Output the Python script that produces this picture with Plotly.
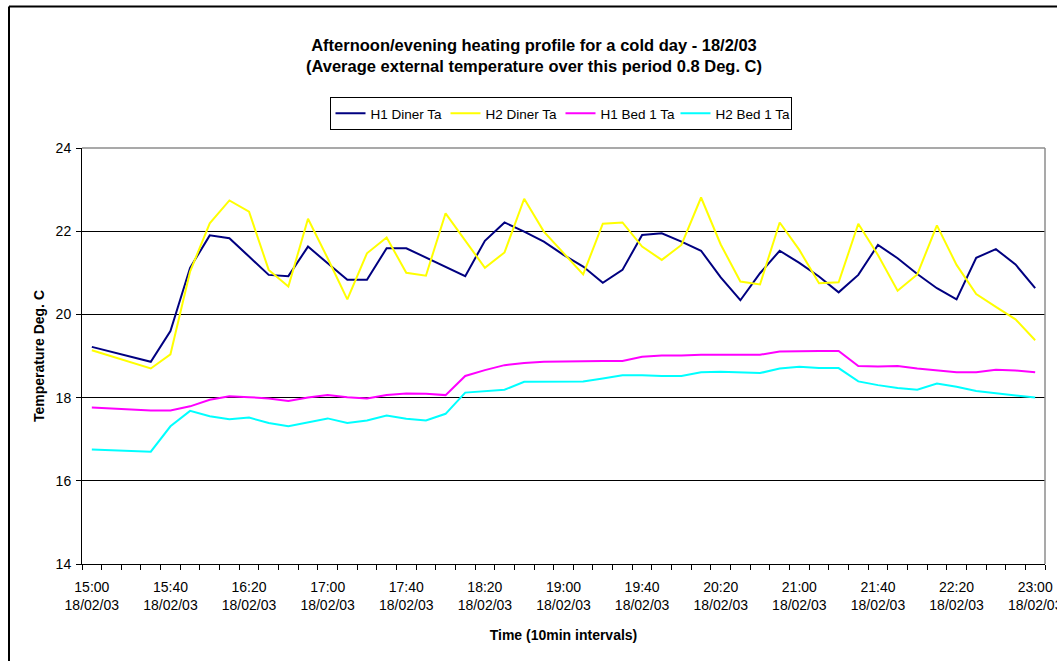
import pandas as pd
import plotly.graph_objects as go

# 10-minute readings, 15:00 to 23:00 on 18/02/03
times = pd.date_range("2003-02-18 15:00", periods=49, freq="10min")

h1_diner = [19.22, 19.10, 18.98, 18.86, 19.60, 21.12, 21.90, 21.83, 21.39, 20.95,
            20.92, 21.63, 21.23, 20.83, 20.83, 21.59, 21.59, 21.36, 21.14, 20.92,
            21.77, 22.21, 21.99, 21.75, 21.43, 21.15, 20.76, 21.07, 21.91, 21.95,
            21.75, 21.53, 20.89, 20.34, 20.99, 21.53, 21.24, 20.91, 20.53, 20.95,
            21.67, 21.35, 20.97, 20.63, 20.36, 21.36, 21.57, 21.20, 20.63]

h2_diner = [19.14, 18.99, 18.85, 18.70, 19.04, 21.03, 22.19, 22.74, 22.47, 21.07,
            20.67, 22.30, 21.35, 20.36, 21.47, 21.85, 21.00, 20.93, 22.43, 21.79,
            21.12, 21.49, 22.78, 21.99, 21.47, 20.96, 22.18, 22.21, 21.63, 21.31,
            21.67, 22.81, 21.68, 20.79, 20.72, 22.21, 21.55, 20.75, 20.77, 22.18,
            21.43, 20.57, 20.96, 22.14, 21.19, 20.49, 20.18, 19.88, 19.38]

h1_bed1 = [17.76, 17.74, 17.71, 17.69, 17.69, 17.79, 17.95, 18.03, 18.01, 17.98,
           17.92, 18.00, 18.06, 18.01, 17.98, 18.06, 18.10, 18.09, 18.06, 18.52,
           18.66, 18.78, 18.83, 18.86, 18.87, 18.88, 18.88, 18.88, 18.98, 19.01,
           19.01, 19.03, 19.03, 19.03, 19.03, 19.11, 19.12, 19.12, 19.12, 18.76,
           18.75, 18.76, 18.70, 18.66, 18.61, 18.61, 18.67, 18.65, 18.61]

h2_bed1 = [16.75, 16.73, 16.72, 16.70, 17.31, 17.68, 17.55, 17.48, 17.52, 17.39,
           17.31, 17.41, 17.50, 17.39, 17.45, 17.57, 17.49, 17.45, 17.61, 18.12,
           18.15, 18.19, 18.38, 18.38, 18.38, 18.39, 18.46, 18.54, 18.54, 18.52,
           18.52, 18.61, 18.62, 18.61, 18.59, 18.70, 18.74, 18.71, 18.71, 18.39,
           18.30, 18.23, 18.19, 18.34, 18.26, 18.16, 18.11, 18.06, 18.00]

tick_labels = ["15:00", "15:40", "16:20", "17:00", "17:40", "18:20", "19:00",
               "19:40", "20:20", "21:00", "21:40", "22:20", "23:00"]
tick_date = "18/02/03"

series = [
    ("H1 Diner Ta", h1_diner, "#000080"),
    ("H2 Diner Ta", h2_diner, "#FFFF00"),
    ("H1 Bed 1 Ta", h1_bed1, "#FF00FF"),
    ("H2 Bed 1 Ta", h2_bed1, "#00FFFF"),
]

FONT = "Arial, 'Liberation Sans', sans-serif"

fig = go.Figure()
for name, vals, color in series:
    fig.add_trace(go.Scatter(x=times, y=vals, mode="lines", name=name,
                             line=dict(color=color, width=2)))

step = pd.Timedelta(minutes=10)
boundaries = [t - step / 2 for t in times] + [times[-1] + step / 2]

# plot-area geometry in pixels, used to place the outer frame
L, R, T, B = 82, 1045, 148, 564
def px_x(p):
    return (p - L) / (R - L)
def px_y(p):
    return (B - p) / (B - T)

fig.update_layout(
    width=1057, height=661, autosize=False,
    margin=dict(l=L, r=1057 - R, t=T, b=661 - B, autoexpand=False),
    paper_bgcolor="white", plot_bgcolor="white",
    font=dict(family=FONT, size=14, color="black"),
    title=dict(
        text="<b>Afternoon/evening heating profile for a cold day - 18/2/03</b><br>"
             "<b>(Average external temperature over this period 0.8 Deg. C)</b>",
        x=534 / 1057, xanchor="center", xref="container",
        y=1 - 50.5 / 661, yanchor="middle", yref="container",
        font=dict(size=16.5, family=FONT, color="black"),
    ),
    legend=dict(
        orientation="h", x=px_x(560.5), xanchor="center",
        y=px_y(97), yanchor="top",
        entrywidth=70, entrywidthmode="pixels",
        bordercolor="black", borderwidth=1, bgcolor="white",
        font=dict(size=13.5, family=FONT, color="black"),
    ),
    showlegend=True,
    xaxis=dict(
        type="date", automargin=False,
        range=[boundaries[0], boundaries[-1]],
        tickmode="array",
        tickvals=list(times[::4]),
        ticktext=[f"{t}<br>{tick_date}" for t in tick_labels],
        ticks="", showgrid=False, zeroline=False,
        showline=True, linecolor="black", linewidth=1,
        ticklabelstandoff=10, ticklabeloverflow="allow",
        tickfont=dict(size=14, family=FONT, color="black"),
        minor=dict(tickmode="array", tickvals=boundaries, ticks="outside",
                   ticklen=5, tickcolor="black", tickwidth=1, showgrid=False),
        title=dict(text="<b>Time (10min intervals)</b>", standoff=18,
                   font=dict(size=14, family=FONT, color="black")),
    ),
    yaxis=dict(
        range=[14, 24], tickmode="linear", tick0=14, dtick=2, automargin=False,
        ticks="outside", ticklen=5, tickcolor="black",
        showline=True, linecolor="black", linewidth=1,
        showgrid=True, gridcolor="black", gridwidth=1, zeroline=False,
        ticklabelstandoff=2,
        tickfont=dict(size=14, family=FONT, color="black"),
        title=dict(text="<b>Temperature Deg. C</b>", standoff=7,
                   font=dict(size=14, family=FONT, color="black")),
    ),
    shapes=[
        # grey top and right edges of the plot area
        dict(type="line", xref="paper", yref="paper", x0=0, x1=1, y0=1, y1=1,
             line=dict(color="#8c8c8c", width=1.5), layer="above"),
        dict(type="line", xref="paper", yref="paper", x0=1, x1=1, y0=0, y1=1,
             line=dict(color="#8c8c8c", width=1.5), layer="above"),
        # chart frame
        dict(type="line", xref="paper", yref="paper",
             x0=px_x(9), x1=px_x(9), y0=px_y(6.5), y1=px_y(680),
             line=dict(color="black", width=2)),
        dict(type="line", xref="paper", yref="paper",
             x0=px_x(9), x1=px_x(1080), y0=px_y(6.5), y1=px_y(6.5),
             line=dict(color="black", width=2)),
    ],
)

fig.write_html("out.html")
